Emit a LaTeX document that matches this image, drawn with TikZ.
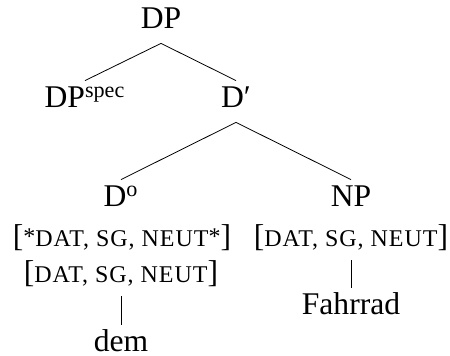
\documentclass[tikz,border=0pt]{standalone}
\usepackage{fontspec}
\setmainfont{Liberation Serif}
\newfontfamily\featfont[LetterSpace=4]{Liberation Serif}
\newcommand{\fsc}[1]{{\featfont\fontsize{12}{14}\selectfont #1}}

\begin{document}
\begin{tikzpicture}[x=0.5pt,y=0.5pt,
	font=\fontsize{15.8}{19}\selectfont,
	cat/.style={anchor=base,inner sep=0pt,text height=13.5pt,text depth=7pt},
	feat/.style={anchor=base,inner sep=0pt,text height=13.5pt,text depth=6.5pt}]
					\useasboundingbox (0,0) rectangle (450,356);
					
					% Categories
					\node[cat] (dp) at (161,327) {DP};
					\node[cat] (spec) at (85,248) {DP\textsuperscript{spec}};
					\node[cat] (dbar) at (236,248) {D′};
					\node[cat] (d0) at (121,149) {D\textsuperscript{o}};
					\node[cat] (np) at (351,149) {NP};
					
					% Features and words
					\node[feat] (f1) at (122,109) {[\fsc{\raisebox{1pt}{*}DAT, SG, NEUT\raisebox{1pt}{*}}]};
					\node[feat] (f2) at (121,73) {[\fsc{DAT, SG, NEUT}]};
					\node[feat] (fnp) at (351,109) {[\fsc{DAT, SG, NEUT}]};
					\node[cat] (dem) at (121,4) {dem};
					\node[cat] (fahrrad) at (351,41) {Fahrrad};
					
					% Branches
					\draw (dp.south) -- (spec.north);
					\draw (dp.south) -- (dbar.north);
					\draw (dbar.south) -- (d0.north);
					\draw (dbar.south) -- (np.north);
					\draw (f2.south) -- (dem.north);
					\draw (fnp.south) -- (fahrrad.north);
				\end{tikzpicture}
\end{document}
